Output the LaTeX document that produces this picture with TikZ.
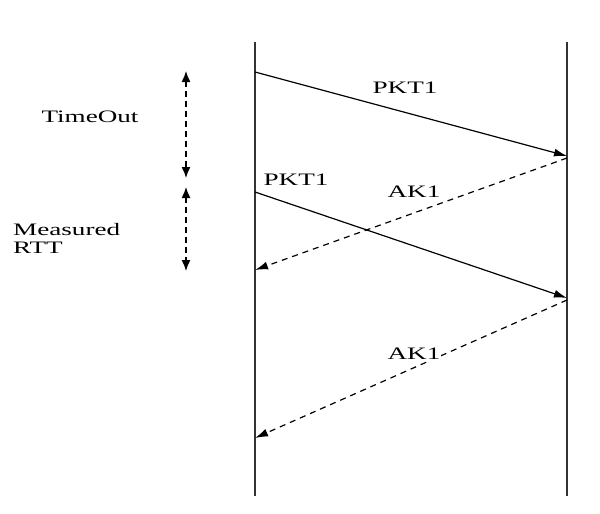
\documentclass[tikz,border=0pt]{standalone}
\usepackage{fontspec}
\setmainfont{Liberation Serif}
\usetikzlibrary{arrows.meta}
\begin{document}
\begin{tikzpicture}[x=1pt,y=-1pt,
  lifeline/.style={line width=1.8pt, draw=black!80},
  msg/.style={line width=1.2pt, -{Latex[length=13pt,width=8pt]}},
  ack/.style={msg, dash pattern=on 6pt off 5pt},
  span/.style={line width=1.4pt, dash pattern=on 6pt off 4pt, {Latex[length=11pt,width=9pt]}-{Latex[length=11pt,width=9pt]}},
  lbl/.style={font=\fontsize{17.5}{20}\selectfont, inner sep=1pt}]
\useasboundingbox (0,0) rectangle (600,514);
% lifelines
\coordinate (Lt) at (255,42); \coordinate (Lb) at (255,496);
\coordinate (Rt) at (567,42); \coordinate (Rb) at (567,496);
\draw[lifeline] (Lt) -- (Lb);
\draw[lifeline] (Rt) -- (Rb);
% message endpoints
\coordinate (p1s) at (255,72);  \coordinate (p1e) at (567,156);
\coordinate (a1s) at (567,158); \coordinate (a1e) at (255,270);
\coordinate (p2s) at (255,192); \coordinate (p2e) at (567,298);
\coordinate (a2s) at (567,300); \coordinate (a2e) at (255,438);
\draw[msg] (p1s) -- (p1e);
\draw[ack] (a1s) -- (a1e);
\draw[msg] (p2s) -- (p2e);
\draw[ack] (a2s) -- (a2e);
% labels
\node[lbl] (l1) at (405,88) {\scalebox{1.55}[1]{PKT1}};
\node[lbl] (l2) at (296,180) {\scalebox{1.55}[1]{PKT1}};
\node[lbl] (l3) at (414,192) {\scalebox{1.55}[1]{AK1}};
\node[lbl, fill=white] (l4) at (414,354) {\scalebox{1.55}[1]{AK1}};
% timing spans
\coordinate (t1a) at (186,71);  \coordinate (t1b) at (186,178);
\coordinate (t2a) at (186,187); \coordinate (t2b) at (186,271);
\draw[span] (t1a) -- (t1b);
\draw[span] (t2a) -- (t2b);
\node[lbl] (to) at (90,117) {\scalebox{1.55}[1]{TimeOut}};
\node[lbl, anchor=west, align=left] (mr) at (12,238) {\scalebox{1.55}[1]{Measured}\\[-2pt]\scalebox{1.55}[1]{RTT}};
\end{tikzpicture}
\end{document}
